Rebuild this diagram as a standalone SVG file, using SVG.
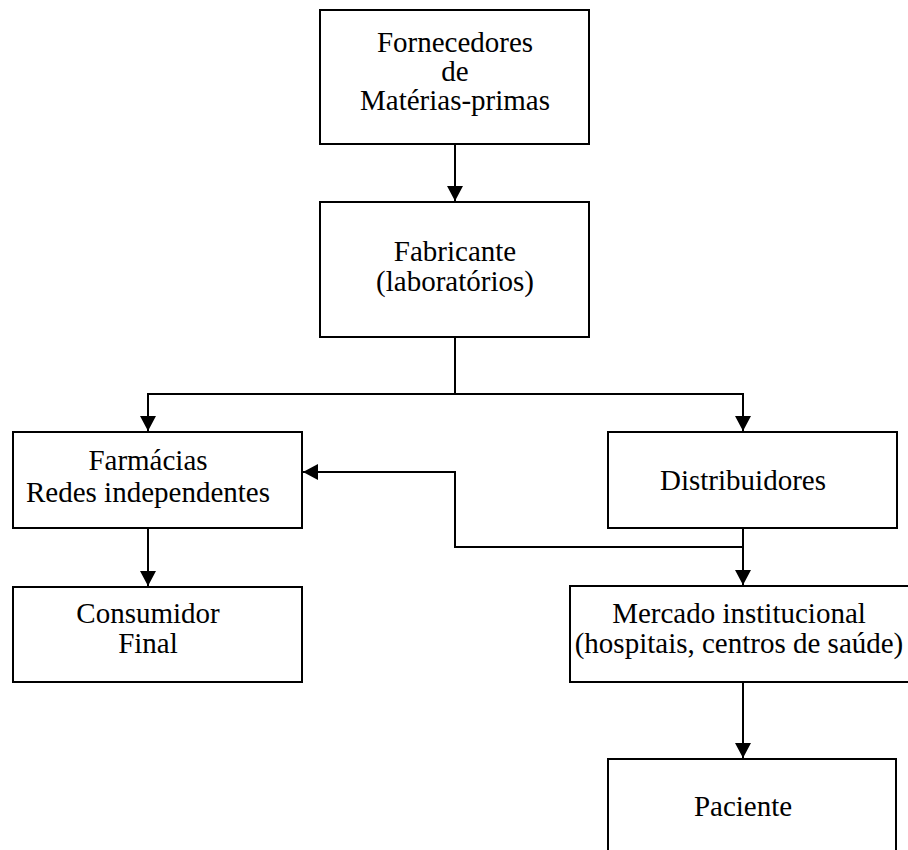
<svg xmlns="http://www.w3.org/2000/svg" width="908" height="850" viewBox="0 0 908 850">
<defs>
<style>
.box{fill:#fff;stroke:#000;stroke-width:2}
.t{font-family:"Liberation Serif","Times New Roman",serif;font-size:29px;fill:#000;text-anchor:middle}
.c{fill:none;stroke:#000;stroke-width:2}
</style>
<marker id="ah" markerWidth="16" markerHeight="16" refX="15" refY="8" orient="auto" markerUnits="userSpaceOnUse">
<path d="M0,0 L15,8 L0,16 Z" fill="#000"/>
</marker>
</defs>
<rect width="908" height="850" fill="#fff"/>
<g id="fornecedores">
<rect class="box" x="320" y="10" width="269" height="134"/>
<text class="t" x="455" y="52">Fornecedores</text>
<text class="t" x="455" y="81">de</text>
<text class="t" x="455" y="110">Matérias-primas</text>
</g>
<g id="fabricante">
<rect class="box" x="320" y="202" width="269" height="135"/>
<text class="t" x="455" y="261">Fabricante</text>
<text class="t" x="455" y="291">(laboratórios)</text>
</g>
<g id="farmacias">
<rect class="box" x="13" y="432" width="289" height="96"/>
<text class="t" x="148" y="470">Farmácias</text>
<text class="t" x="148" y="502">Redes independentes</text>
</g>
<g id="distribuidores">
<rect class="box" x="608" y="432" width="289" height="96"/>
<text class="t" x="743" y="490">Distribuidores</text>
</g>
<g id="consumidor">
<rect class="box" x="13" y="587" width="289" height="95"/>
<text class="t" x="148" y="623">Consumidor</text>
<text class="t" x="148" y="653">Final</text>
</g>
<g id="mercado">
<rect class="box" x="570" y="586" width="350" height="96"/>
<text class="t" x="739" y="623">Mercado institucional</text>
<text class="t" x="739" y="653">(hospitais, centros de saúde)</text>
</g>
<g id="paciente">
<rect class="box" x="608" y="759" width="288" height="110"/>
<text class="t" x="743" y="816">Paciente</text>
</g>
<g id="connectors">
<path class="c" d="M455,144 V201" marker-end="url(#ah)"/>
<path class="c" d="M455,337 V394 H148 V431" marker-end="url(#ah)"/>
<path class="c" d="M455,394 H743 V431" marker-end="url(#ah)"/>
<path class="c" d="M148,528 V586" marker-end="url(#ah)"/>
<path class="c" d="M743,528 V585" marker-end="url(#ah)"/>
<path class="c" d="M743,547 H455 V472 H303" marker-end="url(#ah)"/>
<path class="c" d="M743,682 V758" marker-end="url(#ah)"/>
</g>
</svg>
